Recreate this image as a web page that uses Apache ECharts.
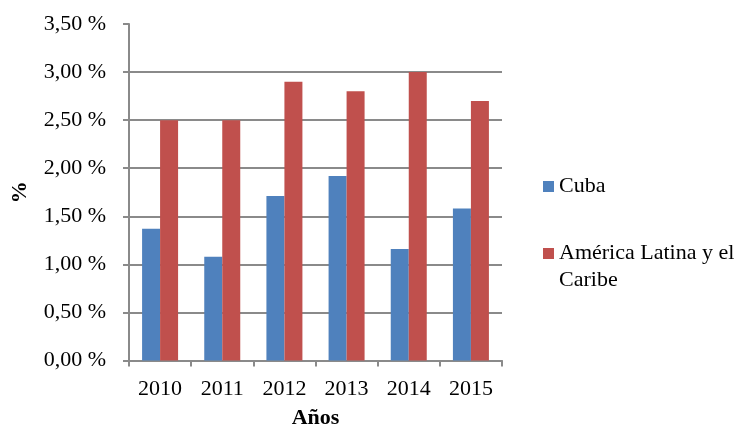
<!DOCTYPE html>
<html>
<head>
<meta charset="utf-8">
<script src="https://cdn.jsdelivr.net/npm/echarts@6/dist/echarts.min.js"></script>
<style>
html,body{margin:0;padding:0;background:#fff;}
#c{width:753px;height:434px;}
</style>
</head>
<body>
<div id="c"></div>
<script>
const categories = ['2010', '2011', '2012', '2013', '2014', '2015'];
const cubaValues = [1.37, 1.08, 1.71, 1.92, 1.16, 1.58];
const latamValues = [2.50, 2.50, 2.90, 2.80, 3.00, 2.70];
const seriesNames = ['Cuba', 'América Latina y el Caribe'];
const yAxisTitle = '%';
const xAxisTitle = 'Años';

const FONT = '"Liberation Serif", "Times New Roman", serif';
const GRAY = '#8a8a8a';

const chart = echarts.init(document.getElementById('c'), null, {renderer: 'canvas'});
chart.setOption({
  animation: false,
  backgroundColor: '#fff',
  textStyle: {fontFamily: FONT, color: '#000'},
  grid: {left: 129, right: 251, top: 24, bottom: 73, containLabel: false},
  legend: [
    {
      data: [seriesNames[0]],
      orient: 'vertical', left: 543, top: 175.5, padding: 0,
      itemWidth: 11, itemHeight: 11, itemGap: 5,
      icon: 'rect',
      textStyle: {fontFamily: FONT, fontSize: 22, color: '#000'}
    },
    {
      data: [seriesNames[1]],
      orient: 'vertical', left: 543, top: 240, padding: 0,
      itemWidth: 11, itemHeight: 38,
      icon: 'path://M0,0L11,0L11,11L0,11Z M0,38L11,38',
      formatter: function (n) { return 'América Latina y el\nCaribe'; },
      textStyle: {fontFamily: FONT, fontSize: 22, color: '#000', lineHeight: 27}
    }
  ],
  xAxis: {
    type: 'category',
    data: categories,
    name: xAxisTitle,
    nameLocation: 'middle',
    nameGap: 46.5,
    nameTextStyle: {fontFamily: FONT, fontSize: 22, fontWeight: 'bold', color: '#000'},
    axisLine: {lineStyle: {color: GRAY, width: 2}},
    axisTick: {show: true, length: 6, inside: false, alignWithLabel: false, lineStyle: {color: GRAY, width: 2}},
    axisLabel: {fontFamily: FONT, fontSize: 22, color: '#000', margin: 18},
    splitLine: {show: false}
  },
  yAxis: {
    type: 'value',
    min: 0, max: 3.5, interval: 0.5,
    name: yAxisTitle,
    nameLocation: 'middle',
    nameGap: 98,
    nameTextStyle: {fontFamily: FONT, fontSize: 22, fontWeight: 'bold', color: '#000'},
    axisLine: {show: true, lineStyle: {color: GRAY, width: 2}},
    axisTick: {show: true, length: 6, inside: false, lineStyle: {color: GRAY, width: 2}},
    axisLabel: {
      fontFamily: FONT, fontSize: 22, color: '#000', margin: 23,
      formatter: function (v) { return v.toFixed(2).replace('.', ',') + ' %'; }
    },
    splitLine: {show: true, showMaxLine: false, lineStyle: {color: GRAY, width: 2}}
  },
  series: [
    {
      name: seriesNames[0], type: 'bar', data: cubaValues,
      barWidth: 18, barGap: '0%',
      itemStyle: {color: '#4F81BD'}
    },
    {
      name: seriesNames[1], type: 'bar', data: latamValues,
      barWidth: 18, barGap: '0%',
      itemStyle: {color: '#C0504D'}
    }
  ]
});
</script>
</body>
</html>
